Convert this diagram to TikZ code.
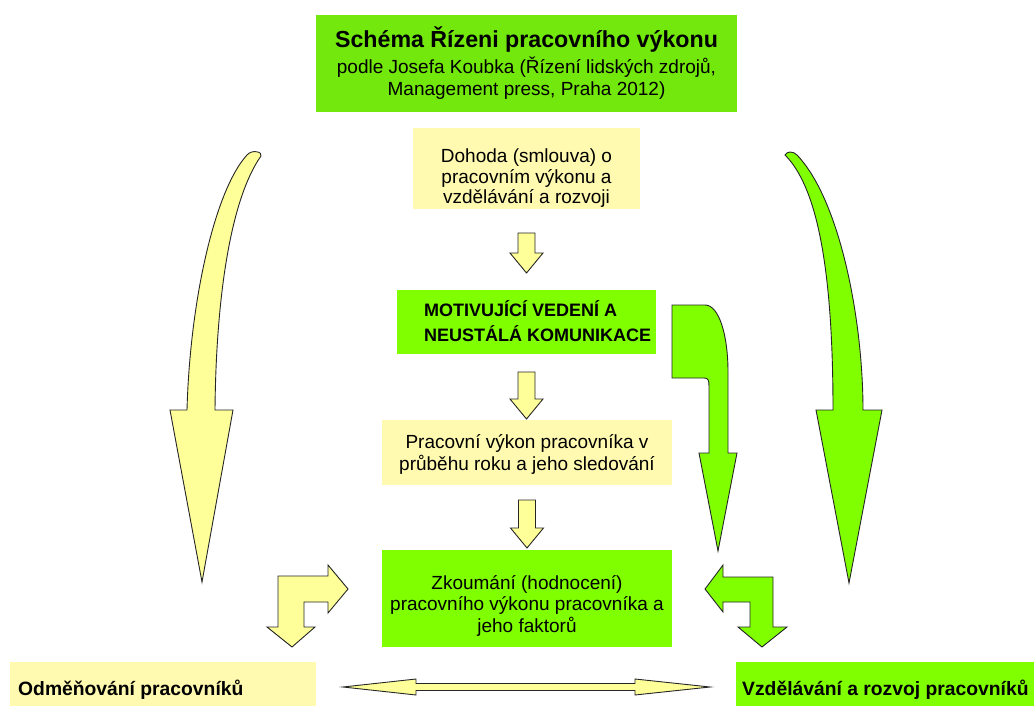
\documentclass[tikz,border=0pt]{standalone}
\usepackage{fontspec}
\setmainfont{Liberation Sans}
\usetikzlibrary{calc}

\definecolor{boxgreen}{HTML}{80FF00}
\definecolor{titlegreen}{HTML}{72E80C}
\definecolor{boxyellow}{HTML}{FFFAB0}
\definecolor{arrowyellow}{HTML}{FFFF99}

% straight block arrow pointing down, from a top point to a tip point
\newcommand\chainarrow[2]{%
  \path[yarrow] let \p1=#1, \p2=#2 in
    (\x1-8.5pt,\y1) -- (\x1+8.5pt,\y1) -- (\x1+8.5pt,\y2+20pt) -- (\x1+16.5pt,\y2+20pt)
    -- (\x1,\y2) -- (\x1-16.5pt,\y2+20pt) -- (\x1-8.5pt,\y2+20pt) -- cycle;}

\begin{document}
\begin{tikzpicture}[x=1pt,y=-1pt,
  gbox/.style={fill=boxgreen, inner sep=0pt, outer sep=0pt},
  ybox/.style={fill=boxyellow, inner sep=0pt, outer sep=0pt},
  body/.style={inner sep=0pt, align=center, text=black},
  yarrow/.style={fill=arrowyellow, draw=black!85, line width=0.9pt, line join=miter},
  garrow/.style={fill=boxgreen, draw=black!85, line width=0.9pt, line join=miter}]
\useasboundingbox (0,0) rectangle (1034,706);

% title
\node[fill=titlegreen, inner sep=0pt, minimum width=421pt, minimum height=97pt,
      body, font=\fontsize{19}{22.3}\selectfont] (title) at (526.5,63.5)
  {{\fontsize{23.2}{26}\selectfont\bfseries Schéma Řízeni pracovního výkonu}\\[3.4pt]
   podle Josefa Koubka (Řízení lidských zdrojů,\\ Management press, Praha 2012)};

% main chain of boxes
\node[ybox, minimum width=227pt, minimum height=81pt] (doh) at (526.5,168.5) {};
\node[body, font=\fontsize{19}{20.5}\selectfont] (dohT) at (526.5,178.5)
  {Dohoda (smlouva) o\\pracovním výkonu a\\vzdělávání a rozvoji};

\node[gbox, minimum width=259pt, minimum height=64pt] (mot) at (526.5,322) {};
\node[inner sep=0pt, anchor=west, align=left,
      font=\fontsize{18}{25}\selectfont\bfseries] (motT) at (424,321)
  {MOTIVUJÍCÍ VEDENÍ A\\NEUSTÁLÁ KOMUNIKACE};

\node[ybox, minimum width=290pt, minimum height=65pt] (prac) at (527,452.5) {};
\node[body, font=\fontsize{19}{22.7}\selectfont] (pracT) at (527,454.5)
  {Pracovní výkon pracovníka v\\průběhu roku a jeho sledování};

\node[gbox, minimum width=290pt, minimum height=97pt] (zk) at (527,598.5) {};
\node[body, font=\fontsize{19}{21.5}\selectfont] (zkT) at (527,605.5)
  {Zkoumání (hodnocení)\\pracovního výkonu pracovníka a\\jeho faktorů};

% outcome boxes
\node[ybox, minimum width=306pt, minimum height=44pt] (odm) at (163,684) {};
\node[inner sep=0pt, anchor=base west, font=\fontsize{19.3}{22}\selectfont\bfseries]
  (odmT) at (18,695) {Odměňování pracovníků};
\node[gbox, minimum width=298pt, minimum height=44pt] (vzd) at (885,684) {};
\node[inner sep=0pt, anchor=base west, font=\fontsize{19.3}{22}\selectfont\bfseries]
  (vzdT) at (742,695) {Vzdělávání a rozvoj pracovníků};

% arrows down the chain
\chainarrow{($(doh.south)+(0,24)$)}{($(mot.north)+(0,-17)$)}
\chainarrow{($(mot.south)+(0,18)$)}{($(prac.north)+(0,-1)$)}
\chainarrow{($(prac.south)+(0,15)$)}{($(zk.north)+(0,-2)$)}

% two-headed arrow between the outcome boxes
\path[yarrow] let \p1=($(odm.east)+(27,3)$), \p2=($(vzd.west)+(-26,3)$) in
  (\p1) -- (\x1+73pt,\y1+8pt) -- (\x1+73pt,\y1+3.5pt) -- (\x2-75pt,\y1+3.5pt)
  -- (\x2-75pt,\y1+8pt) -- (\p2) -- (\x2-75pt,\y1-8pt) -- (\x2-75pt,\y1-3.5pt)
  -- (\x1+73pt,\y1-3.5pt) -- (\x1+73pt,\y1-8pt) -- cycle;

% long curved arrow on the left
\path[yarrow] (187,410) -- (170,410) -- (202,582) -- (233,410) -- (215,410)
  .. controls (216,300) and (230,200) .. (261,156)
  .. controls (263,152) and (252,149) .. (247,155)
  .. controls (215,190) and (190,300) .. (187,410) -- cycle;

% long curved arrow on the right
\path[garrow] (833,410) -- (816,410) -- (849,583) -- (882,410) -- (863,410)
  .. controls (863,320) and (840,200) .. (797,155)
  .. controls (793,151) and (787,151) .. (785,155)
  .. controls (815,185) and (833,260) .. (833,410) -- cycle;

% hooked arrow beside the leadership box
\path[garrow] (672,305) -- (705,305) .. controls (719,305) and (728,335) .. (728,372)
  -- (728,453) -- (737,453) -- (718,551) -- (699,453) -- (709,453) -- (709,386)
  .. controls (709,380) and (708,378) .. (704,378) -- (672,378) -- cycle;

% bent arrows beside the appraisal box
\path[yarrow] (348,589) -- (328,565) -- (328,576) -- (278,576) -- (278,627)
  -- (267,627) -- (292,647) -- (315,627) -- (304,627) -- (304,602) -- (328,602)
  -- (328,613) -- cycle;
\path[garrow] (705,589) -- (723,565) -- (723,577) -- (773,577) -- (773,627)
  -- (787,627) -- (762,647) -- (738,627) -- (750,627) -- (750,602) -- (723,602)
  -- (723,612) -- cycle;
\end{tikzpicture}
\end{document}
